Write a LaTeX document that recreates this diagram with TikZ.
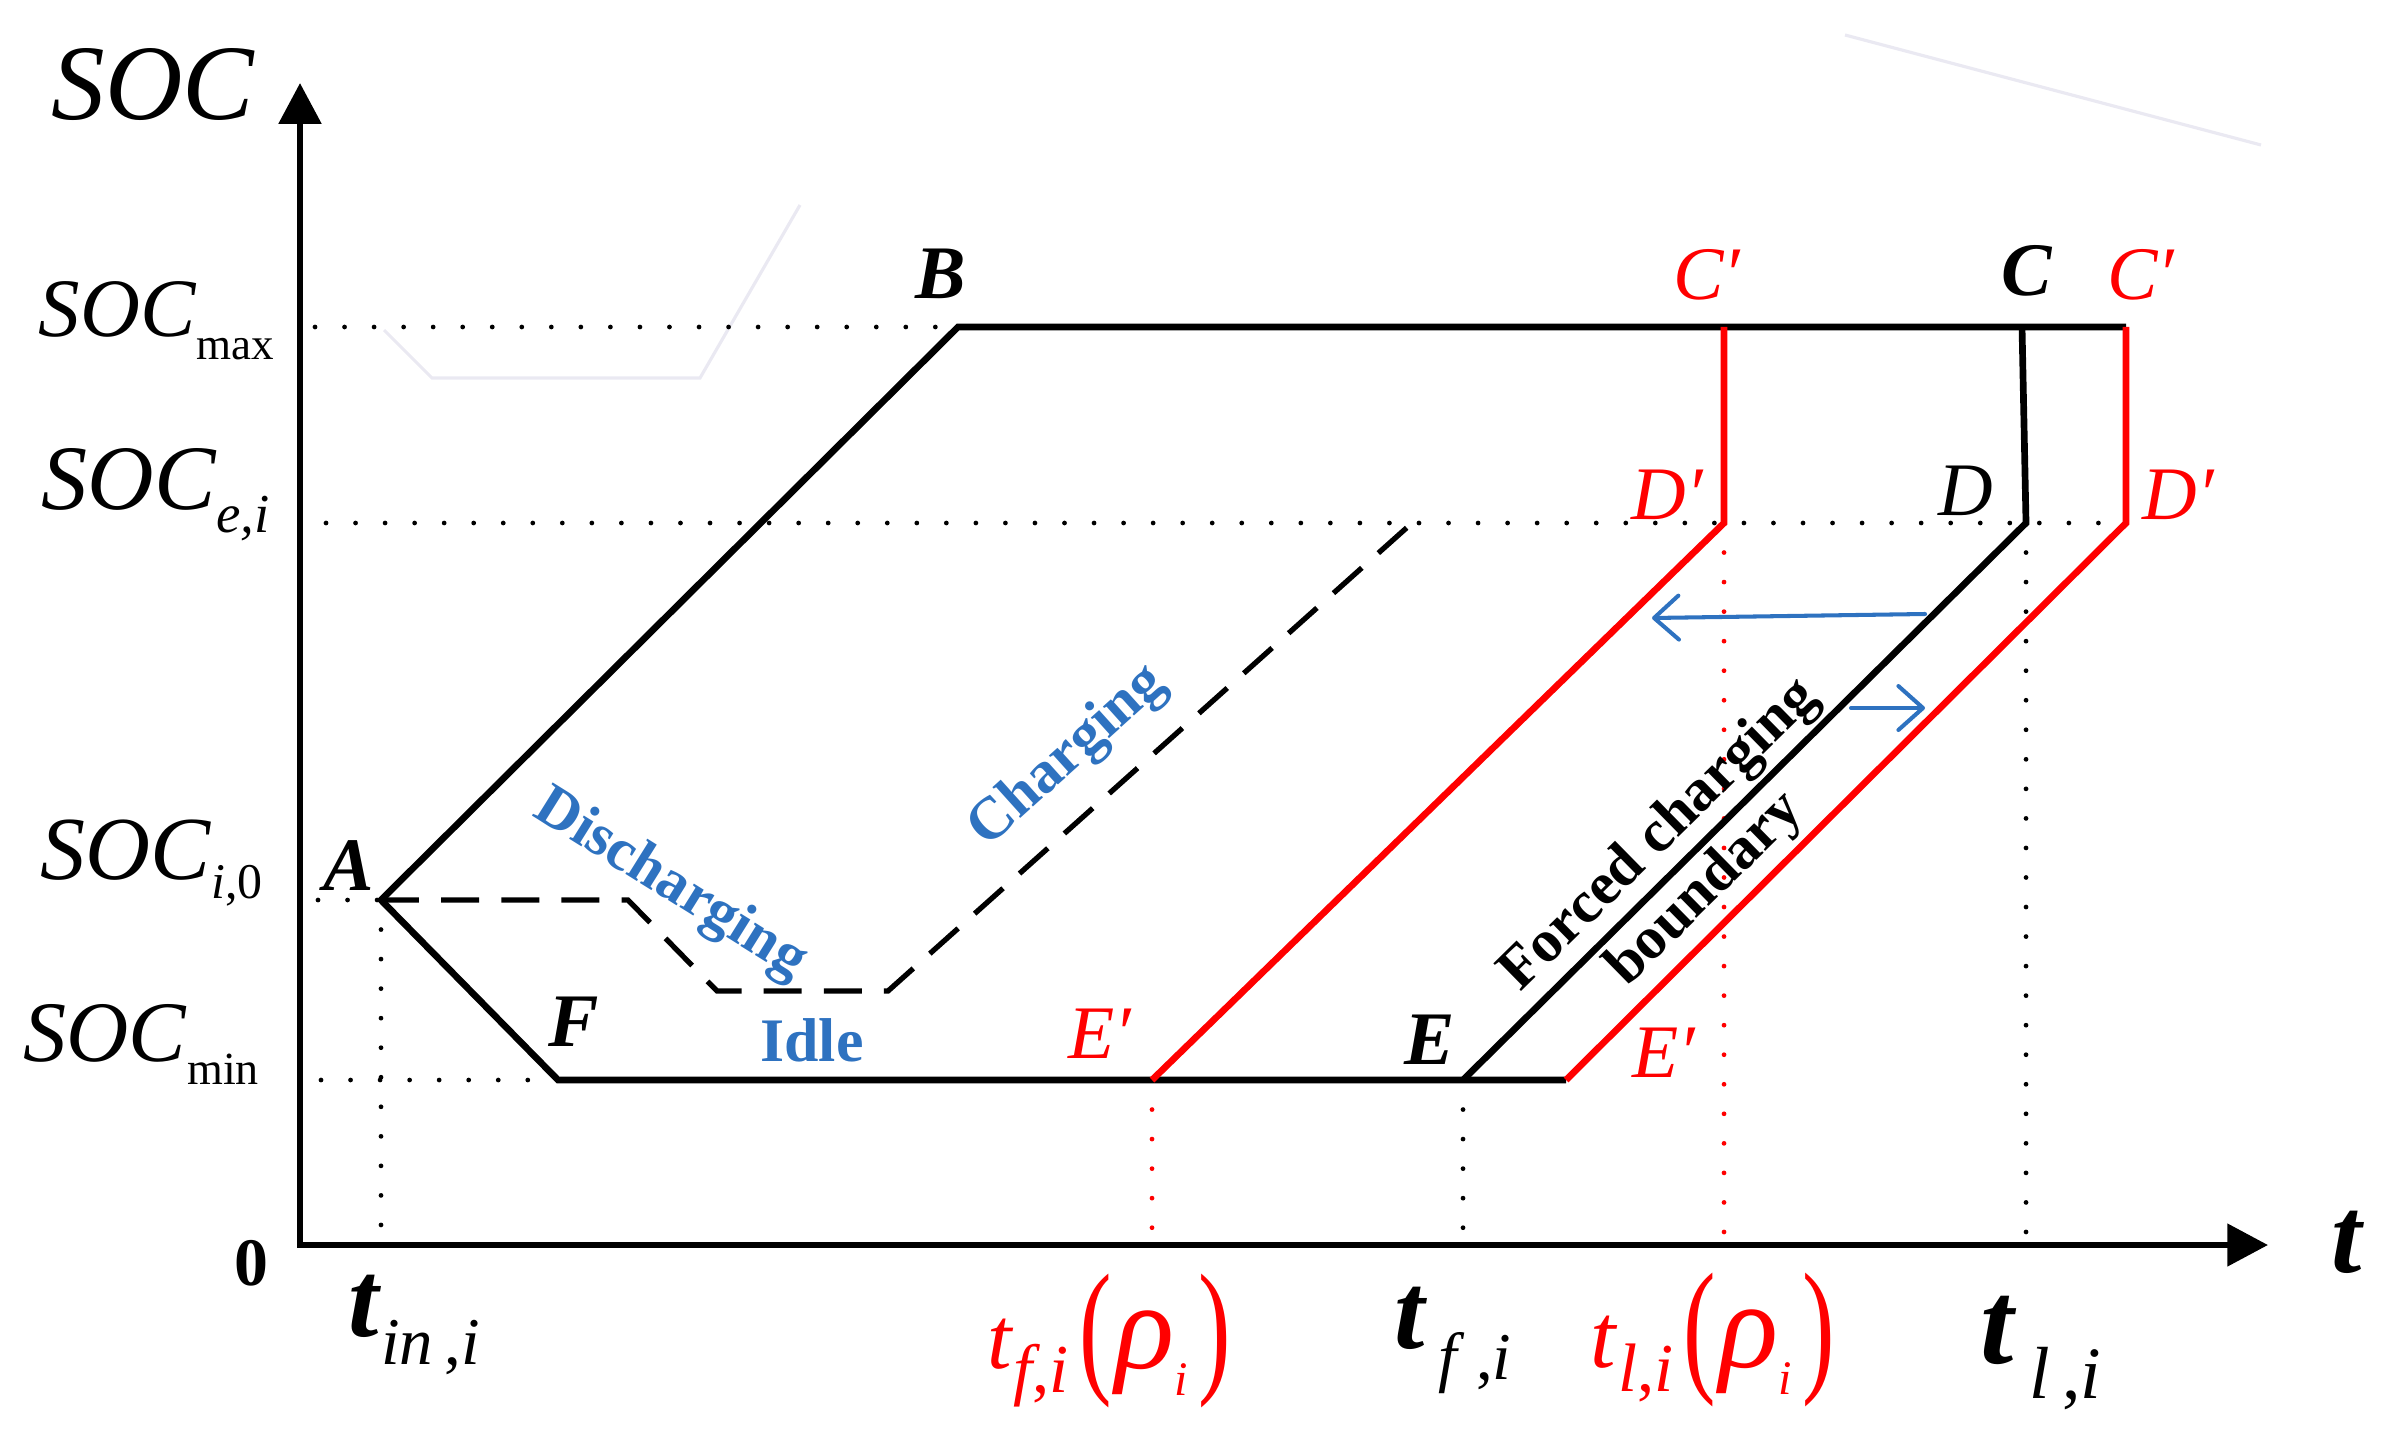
\documentclass[tikz,border=0pt]{standalone}
\usepackage{fontspec}
\setmainfont{Liberation Serif}
\usepackage{graphicx}
\usetikzlibrary{arrows.meta}
\definecolor{chgblue}{RGB}{46,114,192}
\definecolor{ghost}{RGB}{234,233,242}
\newcommand{\fsz}[1]{\fontsize{#1pt}{#1pt}\selectfont}
\newcommand{\bigpar}[1]{\raisebox{-2.4pt}{\scalebox{0.66}[1]{\fsz{42}#1}}}

\begin{document}
\begin{tikzpicture}[x=0.01cm, y=-0.01cm,
    axis/.style={line width=1.9pt, {Triangle[length=11.6pt,width=11.8pt]}-{Triangle[length=11.6pt,width=11.8pt]}},
    soc line/.style={line width=1.9pt, line join=miter},
    plan/.style={line width=1.5pt, dash pattern=on 10.8pt off 6.3pt},
    guide/.style={line width=1.35pt, line cap=round, dash pattern=on 0pt off 8.4pt},
    shift arr/.style={chgblue, line width=1.15pt, line cap=round, -{Straight Barb[length=7pt,width=12.5pt,round]}},
    lab/.style={inner sep=0pt, anchor=base},
    ptlab/.style={lab, font=\fsz{21.5}\bfseries\itshape},
    redlab/.style={lab, font=\fsz{21.5}\itshape, text=red},
    state/.style={inner sep=0pt, font=\fsz{17}\bfseries, text=chgblue}
]
\useasboundingbox (0,0) rectangle (2386,1449);

% faint leftovers of the scan
\draw[ghost, line width=0.9pt] (384,330) -- (432,378) -- (700,378) -- (800,205);
\draw[ghost, line width=0.9pt] (1845,35) -- (2261,145);

% key points
\coordinate (O) at (300,1245);
\coordinate (ytip) at (300,83);
\coordinate (xtip) at (2268,1245);
\coordinate (A) at (381,900);
\coordinate (B) at (958,327);
\coordinate (F) at (558,1080);
\coordinate (C) at (2022,327);
\coordinate (D) at (2026,523);
\coordinate (E) at (1463,1080);
\coordinate (Cpl) at (1724,327);
\coordinate (Dpl) at (1724,523);
\coordinate (Epl) at (1152,1080);
\coordinate (Cpr) at (2126,327);
\coordinate (Dpr) at (2126,523);
\coordinate (Epr) at (1566,1080);
\coordinate (p1) at (628,900);
\coordinate (p2) at (717,991);
\coordinate (p3) at (888,991);
\coordinate (p4) at (1412,523);

% guide lines
\draw[guide] (315,327) -- (B);
\draw[guide] (326,523) -- (Dpr);
\draw[guide] (318,900) -- (A);
\draw[guide] (321,1080) -- (F);
\draw[guide] (A) -- (A |- O);
\draw[guide] (E) -- (E |- O);
\draw[guide] (D) -- (D |- O);
\draw[guide, red] (Epl) -- (Epl |- O);
\draw[guide, red] (Dpl) -- (Dpl |- O);

% axes
\draw[axis] (ytip) -- (O) -- (xtip);

% SOC trajectories
\draw[plan] (A) -- (p1) -- (p2) -- (p3) -- (p4);
\draw[soc line] (Cpr) -- (B) -- (A) -- (F) -- (Epr);
\draw[soc line] (E) -- (D) -- (C);
\draw[soc line, red] (Epl) -- (Dpl) -- (Cpl);
\draw[soc line, red] (Epr) -- (Dpr) -- (Cpr);

% shift of the boundary
\coordinate (b1) at (1925,614);
\coordinate (b2) at (1652,618);
\coordinate (b3) at (1851,708);
\coordinate (b4) at (1925,708);
\draw[shift arr] (b1) -- (b2);
\draw[shift arr] (b3) -- (b4);

% axis labels
\node[lab, anchor=base west, font=\fsz{30.5}\itshape] (ytitle) at (51,120) {SOC};
\node[lab, anchor=base west] (lmax) at (38,337) {\fsz{23.6}\textit{SOC}\raisebox{-6.3pt}{\fsz{12.8}max}};
\node[lab, anchor=base west] (lend) at (41,509) {\fsz{26.2}\textit{SOC}\raisebox{-6.8pt}{\fsz{15.6}\textit{e,i}}};
\node[lab, anchor=base west] (lini) at (40,879) {\fsz{25.6}\textit{SOC}\raisebox{-5.4pt}{\fsz{14.2}\textit{i},0}};
\node[lab, anchor=base west] (lmin) at (23,1061) {\fsz{24.5}\textit{SOC}\raisebox{-6.8pt}{\fsz{13.1}min}};
\node[lab, font=\fsz{19.3}\bfseries] (zero) at (251,1285) {0};
\node[lab, font=\fsz{31}\bfseries\itshape] (xtitle) at (2347,1272) {t};

\node[lab] (tin) at (414,1336) {\fsz{31}\textbf{\textit{t}}\raisebox{-8.2pt}{\fsz{19}\textit{in}\,,\textit{i}}};
\node[lab] (tf) at (1453,1348) {\fsz{31}\textbf{\textit{t}}\raisebox{-9pt}{\fsz{19}\,\textit{f}\,,\textit{i}}};
\node[lab] (tl) at (2041,1363) {\fsz{34}\textbf{\textit{t}}\raisebox{-10pt}{\fsz{21}\,\textit{l}\,,\textit{i}}};
\node[lab, text=red] (tfr) at (1109,1368) {\fsz{25}\textit{t}\raisebox{-7pt}{\fsz{19.5}\textit{f},\textit{i}}\hspace{3pt}\bigpar{(}\hspace{1pt}\fsz{35}\textit{ρ}\raisebox{-7.7pt}{\fsz{13.7}\textit{i}}\hspace{3pt}\bigpar{)}};
\node[lab, text=red] (tlr) at (1713,1367) {\fsz{26}\textit{t}\raisebox{-7pt}{\fsz{19.5}\textit{l},\textit{i}}\hspace{3pt}\bigpar{(}\hspace{1pt}\fsz{35}\textit{ρ}\raisebox{-7.7pt}{\fsz{13.7}\textit{i}}\hspace{3pt}\bigpar{)}};

% point labels
\node[ptlab] (lA) at (349,890) {A};
\node[ptlab] (lB) at (941,298) {B};
\node[ptlab] (lC) at (2027,296) {C};
\node[ptlab] (lF) at (574,1046) {F};
\node[ptlab] (lE) at (1430,1064) {E};
\node[lab, font=\fsz{21.5}\itshape] (lD) at (1966,515) {D};
\node[redlab] (lCpl) at (1707,300) {C′};
\node[redlab] (lCpr) at (2141,300) {C′};
\node[redlab] (lDpl) at (1667,519) {D′};
\node[redlab] (lDpr) at (2178,519) {D′};
\node[redlab] (lEpl) at (1100,1058) {E′};
\node[redlab] (lEpr) at (1664,1077) {E′};

% operating states
\node[state, rotate=-32] (dis) at (670,885) {Discharging};
\node[state, rotate=42] (chg) at (1068,757) {Charging};
\node[state, anchor=base, font=\fsz{17.6}\bfseries] (idle) at (812,1061) {Idle};
\node[state, text=black, rotate=44.5] (forced) at (1660,836) {Forced charging};
\node[state, text=black, rotate=44.5] (bound) at (1706,890) {boundary};
\end{tikzpicture}
\end{document}
